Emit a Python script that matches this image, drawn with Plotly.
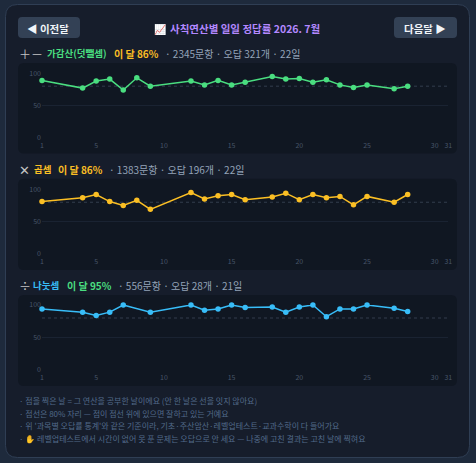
import plotly.graph_objects as go

W, H = 476, 463
FONT = "Noto Sans CJK KR"

tick_days = [1, 5, 10, 15, 20, 25, 30, 31]
y_ticks = [0, 50, 100]

add_days = [1, 4, 5, 6, 7, 8, 9, 12, 13, 14, 15, 16, 18, 19, 20, 21, 22, 23, 24, 25, 27, 28]
add_vals = [89, 77, 88, 91, 74, 93, 80, 88, 82, 89, 82, 86, 95, 91, 92, 86, 90, 82, 78, 82, 76, 80]
mul_days = [1, 4, 5, 6, 7, 8, 9, 12, 13, 14, 15, 16, 18, 19, 20, 21, 22, 23, 24, 25, 27, 28]
mul_vals = [81, 87, 92, 81, 75, 83, 69, 95, 85, 90, 92, 84, 88, 94, 84, 92, 87, 89, 76, 89, 80, 92]
div_days = [1, 4, 5, 6, 7, 9, 12, 13, 14, 15, 16, 18, 19, 20, 21, 22, 23, 24, 25, 27, 28]
div_vals = [94, 89, 84, 89, 100, 89, 100, 92, 94, 100, 96, 97, 89, 97, 100, 82, 94, 94, 100, 95, 90]

colors = ["#4ade80", "#fbbf24", "#38bdf8"]
target = [80, 80, 80]

notes = [
    "· 점을 찍은 날 = 그 연산을 공부한 날이에요 (안 한 날은 선을 잇지 않아요)",
    "· 점선은 80% 자리 — 점이 점선 위에 있으면 잘하고 있는 거예요",
    "· 위 '과목별 오답률 통계'와 같은 기준이라, 기초·주산암산·레벨업테스트·교과수학이 다 들어가요",
    "· ✋ 레벨업테스트에서 시간이 없어 못 푼 문제는 오답으로 안 세요 — 나중에 고친 결과는 고친 날에 찍혀요",
]

BG, CARD, PANEL = "#1e2a3c", "#161d2b", "#101722"


def px(x):
    return x / W


def py(y):
    return 1 - y / H


def rrect(x0, y0, x1, y1, r, fill, line=None):
    p = (f"M {px(x0+r)} {py(y0)} L {px(x1-r)} {py(y0)} Q {px(x1)} {py(y0)} {px(x1)} {py(y0+r)} "
         f"L {px(x1)} {py(y1-r)} Q {px(x1)} {py(y1)} {px(x1-r)} {py(y1)} "
         f"L {px(x0+r)} {py(y1)} Q {px(x0)} {py(y1)} {px(x0)} {py(y1-r)} "
         f"L {px(x0)} {py(y0+r)} Q {px(x0)} {py(y0)} {px(x0+r)} {py(y0)} Z")
    return dict(type="path", path=p, xref="paper", yref="paper", fillcolor=fill,
                line=dict(color=line or fill, width=1 if line else 0), layer="below")


def label(x, y, text, color, size=10, bold=False, anchor="left"):
    t = f"<b>{text}</b>" if bold else text
    return dict(x=px(x), y=py(y), xref="paper", yref="paper", text=t, showarrow=False,
                xanchor=anchor, yanchor="middle", font=dict(family=FONT, size=size, color=color),
                align=anchor, borderpad=0, xshift=-1)


fig = go.Figure()
series = [(add_days, add_vals), (mul_days, mul_vals), (div_days, div_vals)]
plot_tops = [73.3, 189.3, 305]
plot_bottoms = [137.7, 254, 370]
panels = [(63, 153.5), (178.7, 270), (295, 386)]

shapes = [rrect(5.5, 4.5, 469.5, 457.5, 12, CARD, "#2f3e54"),
          rrect(18, 17, 80, 38, 4, "#334155"),
          rrect(394, 17, 457, 38, 4, "#334155")]
for a, b in panels:
    shapes.append(rrect(18, a, 457, b, 6, PANEL))

for i, ((d, v), c) in enumerate(zip(series, colors)):
    n = "" if i == 0 else str(i + 1)
    fig.add_trace(go.Scatter(x=d, y=v, mode="lines+markers", xaxis=f"x{n}", yaxis=f"y{n}",
                             line=dict(color=c, width=1.5), marker=dict(color=c, size=5.5),
                             cliponaxis=False, hoverinfo="skip", showlegend=False))
    axis = dict(range=[1, 31], domain=[px(42), px(448.3)], tickvals=tick_days, showgrid=False, zeroline=False,
                showline=False, ticks="", automargin=False, ticklabelstandoff=2,
                tickfont=dict(family=FONT, size=7, color="#475569"), anchor=f"y{n}")
    yaxis = dict(range=[0, 100], domain=[py(plot_bottoms[i]), py(plot_tops[i])], tickvals=y_ticks, showgrid=True,
                 gridcolor="#1a2332", gridwidth=1, zeroline=False, showline=False, ticks="", automargin=False,
                 tickfont=dict(family=FONT, size=7, color="#475569"), anchor=f"x{n}")
    fig.update_layout({f"xaxis{n}": axis, f"yaxis{n}": yaxis})
    shapes.append(dict(type="line", xref=f"x{n}", yref=f"y{n}", x0=1, x1=31, y0=target[i], y1=target[i],
                       line=dict(color="#333d4d", width=1, dash="3px,3px"), layer="below"))

ann = [
    label(49, 28, "◀ 이전달", "#f1f5f9", 10.5, True, "center"),
    label(425.5, 28, "다음달 ▶", "#f1f5f9", 10.5, True, "center"),
    label(154, 28, "📈", "#ffffff", 10),
    label(169.5, 28, "사칙연산별 일일 정답률 2026. 7월", "#b388ff", 10.5, True),
    label(19, 53, "＋－", "#c4c4c4", 12),
    label(46.5, 53, "가감산(덧뺄셈)", "#4ade80", 9.5, True),
    label(114, 53, "이 달 86%", "#fbbf24", 10, True),
    label(165, 53, "· 2345문항 · 오답 321개 · 22일", "#94a3b8", 10),
    label(19, 169, "✕", "#c4c4c4", 13),
    label(33.5, 169, "곱셈", "#fbbf24", 9.5, True),
    label(57.5, 169, "이 달 86%", "#fbbf24", 10, True),
    label(109, 169, "· 1383문항 · 오답 196개 · 22일", "#94a3b8", 10),
    label(19, 285, "÷", "#c4c4c4", 12),
    label(33, 285, "나눗셈", "#38bdf8", 9.5, True),
    label(66.5, 285, "이 달 95%", "#4ade80", 10, True),
    label(118, 285, "· 556문항 · 오답 28개 · 21일", "#94a3b8", 10),
]
for y, t in zip([400, 413, 425, 438], notes):
    ann.append(label(19, y, t, "#526a8a", 8))

fig.update_layout(width=W, height=H, margin=dict(l=0, r=0, t=0, b=0), paper_bgcolor=BG,
                  plot_bgcolor="rgba(0,0,0,0)", shapes=shapes, annotations=ann,
                  font=dict(family=FONT), showlegend=False)
fig.write_html("out.html", config={"displayModeBar": False},
               post_script="document.body.style.margin='0';document.body.style.overflow='hidden';document.body.style.background='%s';" % BG)
